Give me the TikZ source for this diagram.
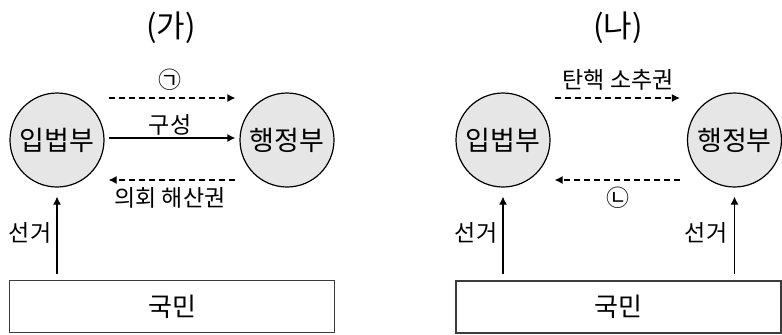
\documentclass[tikz,border=0pt]{standalone}
\usepackage{fontspec}
\setmainfont{Noto Sans CJK KR}
\usetikzlibrary{arrows.meta, calc}

\tikzset{
  organ/.style={circle, draw, line width=0.6pt, fill={rgb,255:red,230;green,230;blue,230}, minimum size=47pt, inner sep=0pt, font=\fontsize{13.5}{15}\selectfont},
  people/.style={draw, line width=0.7pt, draw={rgb,255:red,60;green,60;blue,60}, minimum width=162.5pt, minimum height=26pt, inner sep=0pt, font=\fontsize{13}{15}\selectfont},
  power/.style={-{Latex[length=4pt,width=4pt]}, line width=0.6pt},
  weak/.style={power, dash pattern=on 3pt off 2pt},
  lbl/.style={inner sep=0pt, font=\fontsize{11.5}{13}\selectfont},
  ttl/.style={inner sep=0pt, font=\fontsize{15.5}{17}\selectfont},
}

\begin{document}
\begin{tikzpicture}[x=0.5pt, y=-0.5pt]
  \useasboundingbox (0,0) rectangle (782,334);

  % (가)
  \node[ttl] (ttlA) at (171,28) {(가)};
  \node[organ] (lgA) at (57,140) {입법부};
  \node[organ] (exA) at (287,140) {행정부};
  \node[people] (nmA) at (172,306.5) {국민};
  \draw[weak] ([xshift=2pt,yshift=21pt]lgA.east) -- ([xshift=-2pt,yshift=21pt]exA.west);
  \draw[power] ([xshift=2pt,yshift=1pt]lgA.east) -- ([xshift=-2pt,yshift=1pt]exA.west);
  \draw[weak] ([xshift=-2pt,yshift=-20pt]exA.west) -- ([xshift=2pt,yshift=-20pt]lgA.east);
  \node[lbl] (kA) at (170,80) {㉠};
  \node[lbl] (formA) at (170,125) {구성};
  \node[lbl] (dissA) at (170,198) {의회 해산권};
  \draw[power] ($(lgA |- nmA.north)+(0,-6)$) -- ([yshift=-4.5pt]lgA.south);
  \node[lbl] (voteA) at (30,233) {선거};

  % (나)
  \node[ttl] (ttlB) at (618,28) {(나)};
  \node[organ] (lgB) at (503,140) {입법부};
  \node[organ] (exB) at (734.5,140) {행정부};
  \node[people] (nmB) at (618.5,307) {국민};
  \draw[weak] ([xshift=2pt,yshift=21pt]lgB.east) -- ([xshift=-3.5pt,yshift=21pt]exB.west);
  \draw[weak] ([xshift=-3.5pt,yshift=-20pt]exB.west) -- ([xshift=2pt,yshift=-20pt]lgB.east);
  \node[lbl] (impB) at (618,80) {탄핵 소추권};
  \node[lbl] (nB) at (618,198) {㉡};
  \draw[power] ($(lgB |- nmB.north)+(0,-6)$) -- ([yshift=-4.5pt]lgB.south);
  \draw[power] ($(exB |- nmB.north)+(0,-6)$) -- ([yshift=-4.5pt]exB.south);
  \node[lbl] (voteB) at (476,233) {선거};
  \node[lbl] (voteC) at (706,233) {선거};
\end{tikzpicture}
\end{document}
